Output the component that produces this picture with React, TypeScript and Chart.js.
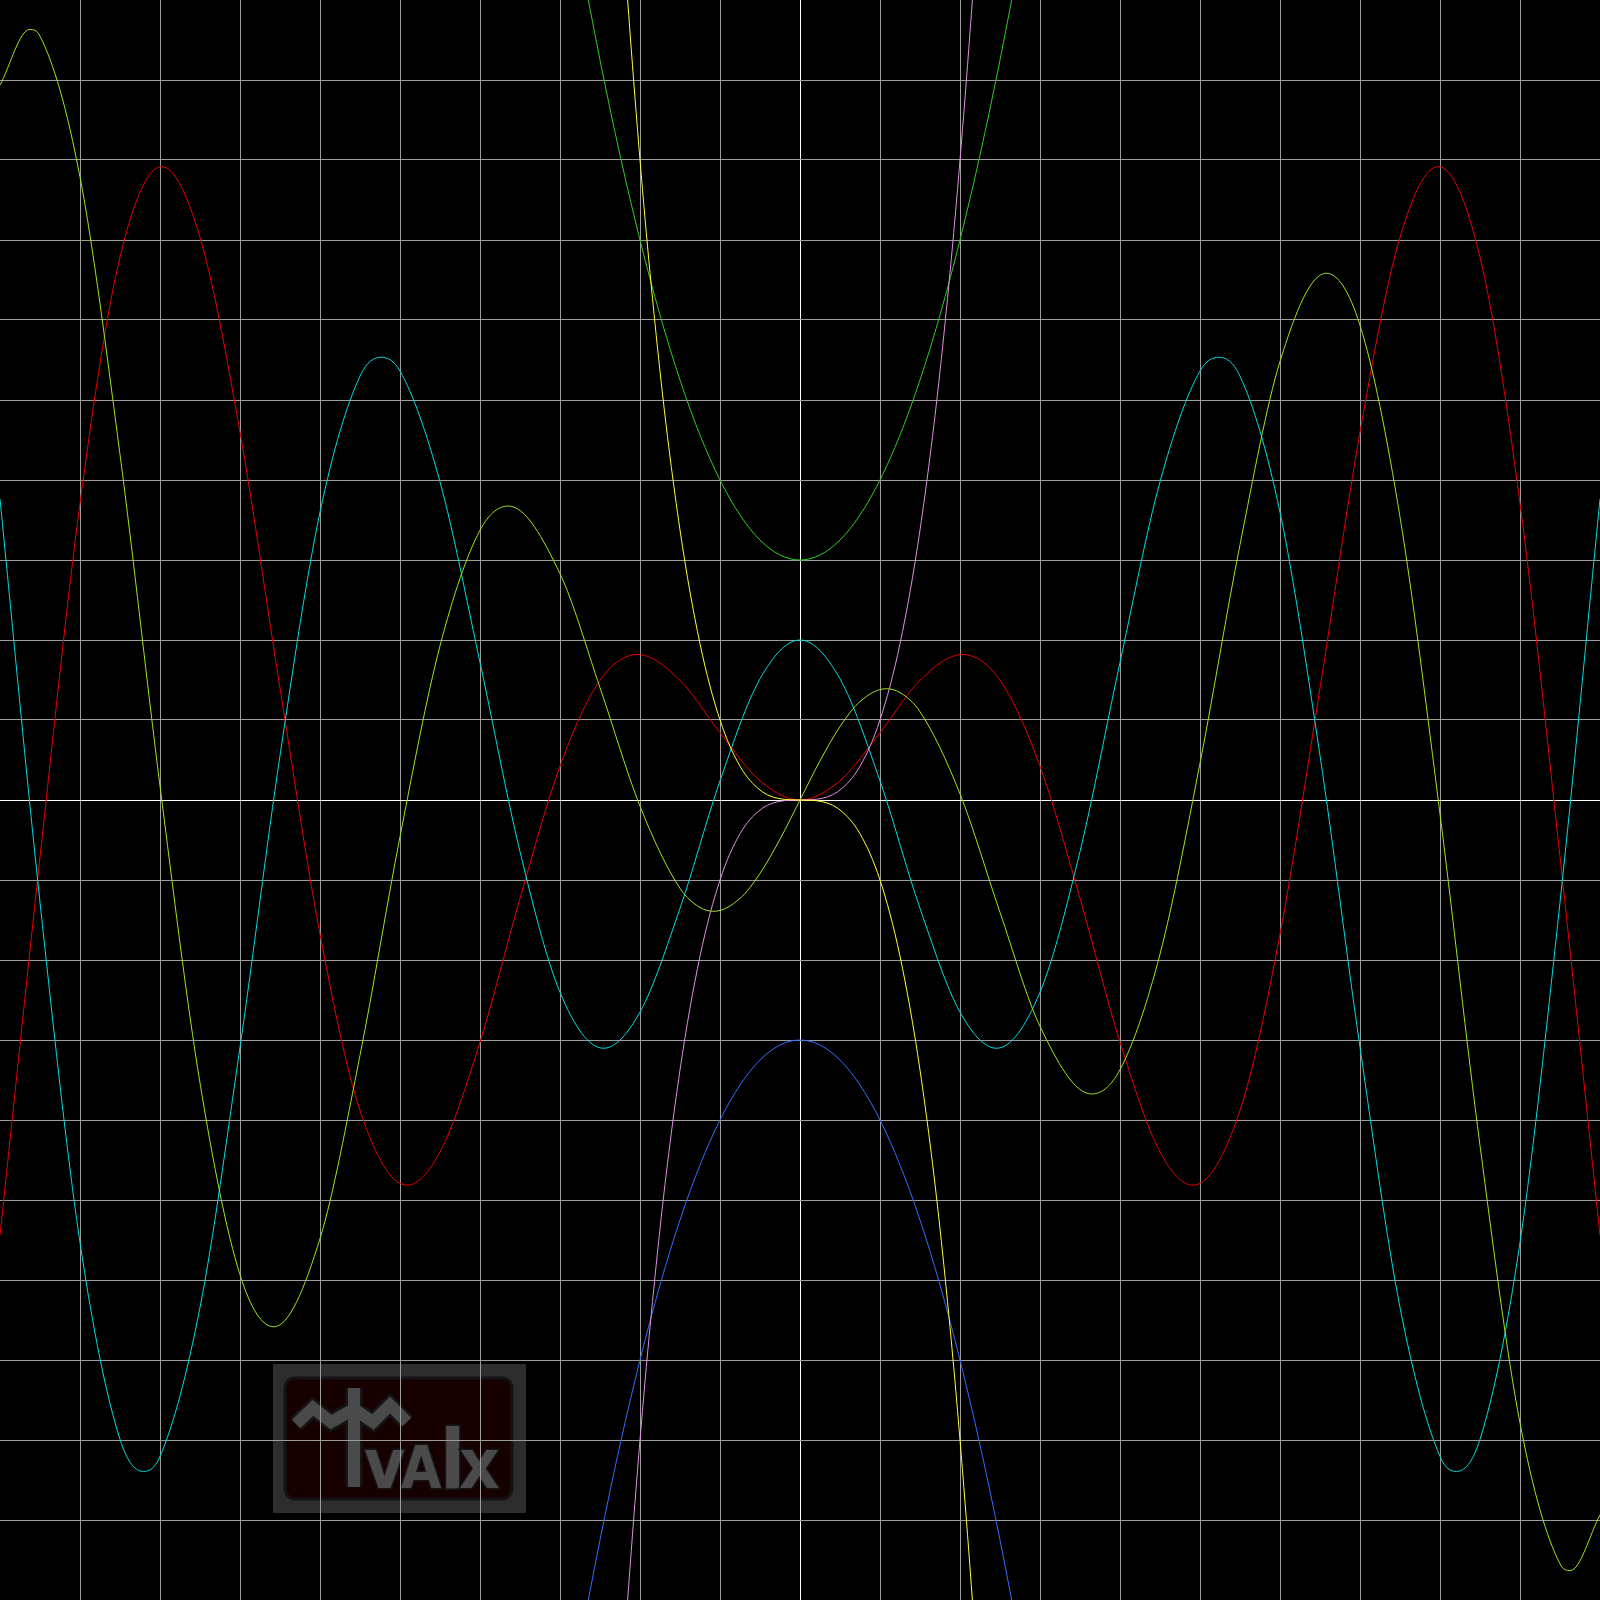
import React, { useEffect, useRef } from 'react';
import { Chart, registerables } from 'chart.js';

Chart.register(...registerables);

// red curve (x positions in units, values in units)
const RED_X = [
  -10, -9.5, -9, -8.5, -7.979, -7.5, -7, -6.5, -6, -5.5, -4.913, -4.5, -4, -3.5, -3, -2.5, -2.029, -1.5, -1, -0.5,
  0, 0.5, 1, 1.5, 2.029, 2.5, 3, 3.5, 4, 4.5, 4.913, 5.5, 6, 6.5, 7, 7.5, 7.979, 8.5, 9, 9.5, 10,
];
const RED_Y = [
  -5.44, -0.714, 3.709, 6.787, 7.917, 7.035, 4.599, 1.398, -1.676, -3.88, -4.815, -4.399, -3.027, -1.228, 0.423,
  1.496, 1.819, 1.496, 0.841, 0.24, 0, 0.24, 0.841, 1.496, 1.819, 1.496, 0.423, -1.228, -3.027, -4.399, -4.815,
  -3.88, -1.676, 1.398, 4.599, 7.035, 7.917, 6.787, 3.709, -0.714, -5.44,
];

// cyan curve
const CYAN_X = [
  -10, -9.5, -9, -8.5, -8.205, -8, -7.5, -7, -6.5, -6, -5.5, -5.233, -5, -4.5, -4, -3.5, -3, -2.456, -2, -1.5, -1,
  -0.5, 0, 0.5, 1, 1.5, 2, 2.456, 3, 3.5, 4, 4.5, 5, 5.233, 5.5, 6, 6.5, 7, 7.5, 8, 8.205, 8.5, 9, 9.5, 10,
];
const CYAN_Y = [
  3.762, -1.28, -5.531, -7.991, -8.393, -8.206, -6.342, -3.091, 0.555, 3.597, 5.298, 5.534, 5.362, 3.977, 1.72,
  -0.645, -2.403, -3.103, -2.651, -1.355, 0.239, 1.515, 2, 1.515, 0.239, -1.355, -2.651, -3.103, -2.403, -0.645,
  1.72, 3.977, 5.362, 5.534, 5.298, 3.597, 0.555, -3.091, -6.342, -8.206, -8.393, -7.991, -5.531, -1.28, 3.762,
];

// yellow-green curve
const LIME_X = [
  -10, -9.63, -9.5, -9, -8.5, -8, -7.5, -7, -6.578, -6, -5.5, -5, -4.5, -4, -3.644, -3, -2.5, -2, -1.5, -1.25,
  -1.077, -0.75, -0.5, -0.25, 0, 0.25, 0.5, 0.75, 1.077, 1.25, 1.5, 2, 2.5, 3, 3.644, 4, 4.5, 5, 5.5, 6, 6.578, 7,
  7.5, 8, 8.5, 9, 9.5, 9.63, 10,
];
const LIME_Y = [
  8.935, 9.632, 9.548, 7.788, 4.319, 0.175, -3.538, -5.934, -6.585, -5.482, -3.192, -0.459, 1.926, 3.371, 3.675,
  2.829, 1.404, -0.077, -1.104, -1.343, -1.391, -1.23, -0.918, -0.49, 0, 0.49, 0.918, 1.23, 1.391, 1.343, 1.104,
  0.077, -1.404, -2.829, -3.675, -3.371, -1.926, 0.459, 3.192, 5.482, 6.585, 5.934, 3.538, -0.175, -4.319, -7.788,
  -9.548, -9.632, -8.935,
];

// the two steep curves through the origin
const STEEP_X = [
  -2.5, -2.25, -2, -1.75, -1.5, -1.25, -1, -0.75, -0.5, -0.25, 0, 0.25, 0.5, 0.75, 1, 1.25, 1.5, 1.75, 2, 2.25, 2.5,
];
const PINK_Y = [
  -15.625, -11.391, -8, -5.359, -3.375, -1.953, -1, -0.422, -0.125, -0.016, 0, 0.016, 0.125, 0.422, 1, 1.953, 3.375,
  5.359, 8, 11.391, 15.625,
];
const YELLOW_Y = [
  15.625, 11.391, 8, 5.359, 3.375, 1.953, 1, 0.422, 0.125, 0.016, 0, -0.016, -0.125, -0.422, -1, -1.953, -3.375,
  -5.359, -8, -11.391, -15.625,
];

// the two parabolas
const PARA_X = [-3.5, -3, -2.5, -2, -1.5, -1, -0.5, 0, 0.5, 1, 1.5, 2, 2.5, 3, 3.5];
const GREEN_Y = [15.25, 12, 9.25, 7, 5.25, 4, 3.25, 3, 3.25, 4, 5.25, 7, 9.25, 12, 15.25];
const BLUE_Y = [-15.25, -12, -9.25, -7, -5.25, -4, -3.25, -3, -3.25, -4, -5.25, -7, -9.25, -12, -15.25];

const AXIS_MIN = -10;
const AXIS_MAX = 10;

const GRID = '#9c9c9c';
const AXIS = '#ffffff';

function pts(xs: number[], ys: number[]) {
  return xs.map((x, i) => ({ x, y: ys[i] }));
}

const backgroundPlugin = {
  id: 'bgWatermark',
  beforeDraw(chart: any) {
    const ctx = chart.ctx as CanvasRenderingContext2D;
    ctx.save();
    ctx.fillStyle = '#000000';
    ctx.fillRect(0, 0, chart.width, chart.height);

    // watermark
    ctx.fillStyle = '#2d2d2d';
    ctx.fillRect(273, 1364, 253, 149);
    ctx.beginPath();
    ctx.roundRect(285, 1378, 227, 121, 10);
    ctx.fillStyle = '#170000';
    ctx.fill();
    ctx.lineWidth = 3;
    ctx.strokeStyle = '#141414';
    ctx.stroke();

    const logo = '#4a4a4a';
    const edge = '#151515';
    const zig: [number, number][] = [
      [296, 1424], [313, 1408], [331, 1422], [354, 1409], [373, 1422], [390, 1405], [407, 1422],
    ];
    ctx.lineJoin = 'miter';
    ctx.lineCap = 'butt';
    for (const [w, c] of [[17, edge], [12, logo]] as [number, string][]) {
      ctx.beginPath();
      zig.forEach(([x, y], i) => (i ? ctx.lineTo(x, y) : ctx.moveTo(x, y)));
      ctx.lineWidth = w;
      ctx.strokeStyle = c;
      ctx.stroke();
      ctx.beginPath();
      ctx.moveTo(354, 1388);
      ctx.lineTo(354, 1487);
      ctx.stroke();
    }

    ctx.textBaseline = 'alphabetic';
    ctx.lineWidth = 3;
    ctx.strokeStyle = edge;
    ctx.fillStyle = logo;
    const letters: [string, number, number][] = [
      ['v', 364, 70],
      ['A', 401, 58],
      ['l', 440, 82],
      ['x', 459, 70],
    ];
    for (const [ch, x, size] of letters) {
      ctx.font = `bold ${size}px "DejaVu Sans Condensed", "DejaVu Sans", sans-serif`;
      ctx.strokeText(ch, x, 1488);
      ctx.fillText(ch, x, 1488);
    }
    ctx.restore();
  },
};

function gridColor(c: any) {
  const v = c.tick ? c.tick.value : NaN;
  if (v === 0) return AXIS;
  if (Math.abs(v) === AXIS_MAX) return 'rgba(0,0,0,0)';
  return GRID;
}

const scaleBase = {
  type: 'linear' as const,
  min: AXIS_MIN,
  max: AXIS_MAX,
  ticks: { display: false, stepSize: 1, maxTicksLimit: 100 },
  grid: { color: gridColor, lineWidth: 1, drawTicks: false },
  border: { display: false },
};

export default function App() {
  const ref = useRef<HTMLCanvasElement>(null);
  useEffect(() => {
    document.body.style.margin = '0';
    document.body.style.background = '#000';
    const line = (label: string, xs: number[], ys: number[], color: string) => ({
      label,
      data: pts(xs, ys),
      borderColor: color,
      backgroundColor: color,
      borderWidth: 1,
      pointRadius: 0,
      showLine: true,
      fill: false,
      cubicInterpolationMode: 'monotone' as const,
      tension: 0.4,
    });
    const chart = new Chart(ref.current!, {
      type: 'scatter',
      data: {
        datasets: [
          line('yellow', STEEP_X, YELLOW_Y, '#ffff33'),
          line('pink', STEEP_X, PINK_Y, '#e090e0'),
          line('blue', PARA_X, BLUE_Y, '#2f6cff'),
          line('green', PARA_X, GREEN_Y, '#2ccc22'),
          line('lime', LIME_X, LIME_Y, '#9ce61c'),
          line('cyan', CYAN_X, CYAN_Y, '#00dde0'),
          line('red', RED_X, RED_Y, '#e60000'),
        ],
      },
      options: {
        responsive: false,
        animation: false,
        devicePixelRatio: 1,
        layout: { padding: 0 },
        elements: { line: { capBezierPoints: false } },
        plugins: { legend: { display: false }, tooltip: { enabled: false } },
        events: [],
        scales: { x: { ...scaleBase }, y: { ...scaleBase } },
      },
      plugins: [backgroundPlugin],
    });
    return () => chart.destroy();
  }, []);
  return (
    <div style={{ position: 'absolute', left: 0, top: 0, width: 1600, height: 1600, background: '#000' }}>
      <canvas ref={ref} width={1600} height={1600} style={{ display: 'block', width: 1600, height: 1600 }} />
    </div>
  );
}
